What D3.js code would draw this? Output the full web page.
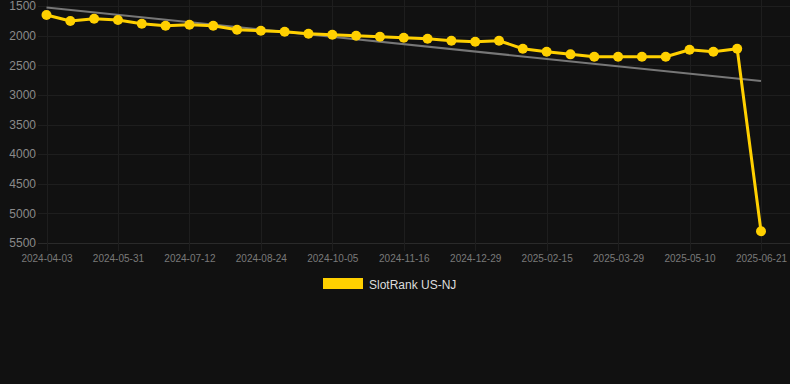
<!DOCTYPE html>
<html>
<head>
<meta charset="utf-8">
<script src="https://cdn.jsdelivr.net/npm/d3@7"></script>
<style>
  html, body { margin: 0; padding: 0; background: #111111; }
  svg { display: block; }
</style>
</head>
<body>
<svg id="chart" width="790" height="384"></svg>
<script>
// ---- data ----
const categories = [
  "2024-04-03","2024-04-24","2024-05-17","2024-05-31","2024-06-14","2024-06-28",
  "2024-07-12","2024-07-26","2024-08-09","2024-08-24","2024-09-07","2024-09-21",
  "2024-10-05","2024-10-19","2024-11-02","2024-11-16","2024-11-30","2024-12-14",
  "2024-12-29","2025-01-12","2025-01-29","2025-02-15","2025-03-01","2025-03-15",
  "2025-03-29","2025-04-12","2025-04-26","2025-05-10","2025-05-24","2025-06-07",
  "2025-06-21"
];
const rankValues = [
  1652,1753,1714,1736,1799,1832,1815,1832,1900,1917,1934,1968,1985,2002,2019,2036,
  2053,2086,2103,2086,2221,2272,2316,2356,2356,2356,2356,2238,2272,2221,5301
];
const yTicks = [1500,2000,2500,3000,3500,4000,4500,5000,5500];
const xLabelEvery = 3;
const seriesName = "SlotRank US-NJ";

// ---- layout ----
const svg = d3.select("#chart");
const plotLeft = 46.5, plotRight = 761, plotTop = 6, plotBottom = 243;

const x = d3.scalePoint().domain(categories).range([plotLeft, plotRight]);
const y = d3.scaleLinear().domain([1500, 5500]).range([plotTop, plotBottom]);

// background
svg.append("rect").attr("width", 790).attr("height", 384).attr("fill", "#111111");

// horizontal grid
svg.append("g").selectAll("line").data(yTicks).join("line")
  .attr("x1", 38).attr("x2", 790)
  .attr("y1", d => Math.round(y(d)) + 0.5).attr("y2", d => Math.round(y(d)) + 0.5)
  .attr("stroke", d => d === 5500 ? "#2a2a2a" : "#1e1e1e").attr("stroke-width", 1);

// vertical grid
const labeled = categories.filter((d, i) => i % xLabelEvery === 0);
svg.append("g").selectAll("line").data(labeled).join("line")
  .attr("x1", d => Math.round(x(d)) + 0.5).attr("x2", d => Math.round(x(d)) + 0.5)
  .attr("y1", 0).attr("y2", 251)
  .attr("stroke", "#1e1e1e").attr("stroke-width", 1);

// y axis labels
const yAxis = d3.axisLeft(y).tickValues(yTicks).tickSize(0).tickPadding(0).tickFormat(d => d);
const gy = svg.append("g").attr("transform", "translate(36,0)").call(yAxis);
gy.select(".domain").remove();
gy.selectAll("text").attr("fill", "#8a8a8a").attr("font-size", 12)
  .attr("font-family", "Liberation Sans, Arial, sans-serif");

// x axis labels
const xAxis = d3.axisBottom(x).tickValues(labeled).tickSize(0).tickPadding(0);
const gx = svg.append("g").attr("transform", "translate(0,255)").call(xAxis);
gx.select(".domain").remove();
gx.selectAll("text").attr("fill", "#7a7a7a").attr("font-size", 10)
  .attr("font-family", "Liberation Sans, Arial, sans-serif");

// trend line (least squares)
const n = rankValues.length;
const idx = d3.range(n);
const mx = d3.mean(idx), my = d3.mean(rankValues);
const slope = d3.sum(idx, i => (i - mx) * (rankValues[i] - my)) / d3.sum(idx, i => (i - mx) ** 2);
const intercept = my - slope * mx;
svg.append("line")
  .attr("x1", x(categories[0])).attr("y1", y(intercept))
  .attr("x2", x(categories[n - 1])).attr("y2", y(intercept + slope * (n - 1)))
  .attr("stroke", "#777777").attr("stroke-width", 2);

// series line
const line = d3.line().x((d, i) => x(categories[i])).y(d => y(d));
svg.append("path").datum(rankValues)
  .attr("d", line).attr("fill", "none")
  .attr("stroke", "#FFD000").attr("stroke-width", 3).attr("stroke-linejoin", "round");

svg.append("g").selectAll("circle").data(rankValues).join("circle")
  .attr("cx", (d, i) => x(categories[i])).attr("cy", d => y(d))
  .attr("r", 5).attr("fill", "#FFD000");

// legend
const lg = svg.append("g");
lg.append("rect").attr("x", 323).attr("y", 278).attr("width", 40).attr("height", 11).attr("fill", "#FFD000");
lg.append("text").attr("x", 369).attr("y", 289).text(seriesName)
  .attr("fill", "#dddddd").attr("font-size", 12)
  .attr("font-family", "Liberation Sans, Arial, sans-serif");
</script>
</body>
</html>
